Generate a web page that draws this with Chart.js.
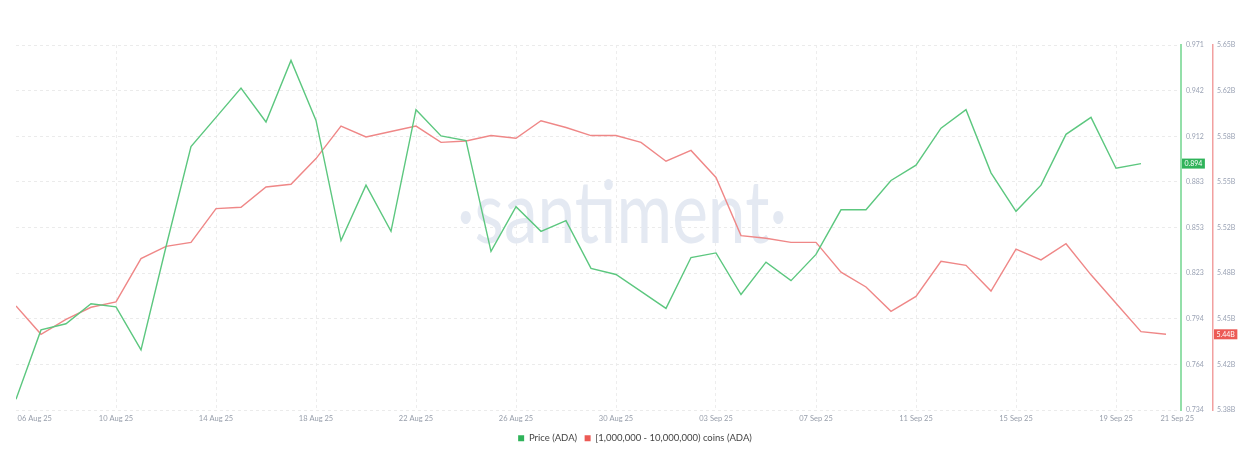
<!DOCTYPE html>
<html>
<head>
<meta charset="utf-8">
<script src="https://cdn.jsdelivr.net/npm/chart.js@4.4.0/dist/chart.umd.min.js"></script>
<style>
  html, body { margin: 0; padding: 0; background: #fff; }
  #wrap { width: 1254px; height: 453px; position: relative; }
</style>
</head>
<body>
<div id="wrap"><canvas id="grafico"></canvas></div>
<script>
// --- DATA ---
const dias = [
  '06 Aug 25', '07 Aug 25', '08 Aug 25', '09 Aug 25', '10 Aug 25', '11 Aug 25', '12 Aug 25', '13 Aug 25',
  '14 Aug 25', '15 Aug 25', '16 Aug 25', '17 Aug 25', '18 Aug 25', '19 Aug 25', '20 Aug 25', '21 Aug 25',
  '22 Aug 25', '23 Aug 25', '24 Aug 25', '25 Aug 25', '26 Aug 25', '27 Aug 25', '28 Aug 25', '29 Aug 25',
  '30 Aug 25', '31 Aug 25', '01 Sep 25', '02 Sep 25', '03 Sep 25', '04 Sep 25', '05 Sep 25', '06 Sep 25',
  '07 Sep 25', '08 Sep 25', '09 Sep 25', '10 Sep 25', '11 Sep 25', '12 Sep 25', '13 Sep 25', '14 Sep 25',
  '15 Sep 25', '16 Sep 25', '17 Sep 25', '18 Sep 25', '19 Sep 25', '20 Sep 25', '21 Sep 25'
];

// Price (ADA), USD
const precoADA = [
  0.741, 0.786, 0.790, 0.803, 0.801, 0.773, 0.840, 0.905, 0.924, 0.943, 0.921, 0.961,
  0.922, 0.844, 0.880, 0.850, 0.929, 0.912, 0.909, 0.837, 0.866, 0.850, 0.857, 0.826,
  0.822, 0.811, 0.800, 0.833, 0.836, 0.809, 0.830, 0.818, 0.835, 0.864, 0.864, 0.883,
  0.893, 0.917, 0.929, 0.888, 0.863, 0.880, 0.913, 0.924, 0.891, 0.894
];

// supply held by [1M - 10M) coin wallets, in billions of ADA
const saldoBaleias = [
  5.457, 5.436, 5.447, 5.456, 5.460, 5.492, 5.501, 5.504, 5.529, 5.530, 5.545, 5.547,
  5.566, 5.590, 5.582, 5.586, 5.590, 5.578, 5.579, 5.583, 5.581, 5.594, 5.589, 5.583,
  5.583, 5.578, 5.564, 5.572, 5.552, 5.509, 5.507, 5.504, 5.504, 5.482, 5.471, 5.453,
  5.464, 5.490, 5.487, 5.468, 5.499, 5.491, 5.503, 5.480, 5.459, 5.438, 5.436
];

const xTickLabels = ['06 Aug 25', '10 Aug 25', '14 Aug 25', '18 Aug 25', '22 Aug 25', '26 Aug 25', '30 Aug 25',
  '03 Sep 25', '07 Sep 25', '11 Sep 25', '15 Sep 25', '19 Sep 25', '21 Sep 25'];
const precoTickLabels = ['0.734', '0.764', '0.794', '0.823', '0.853', '0.883', '0.912', '0.942', '0.971'];
const saldoTickLabels = ['5.38B', '5.42B', '5.45B', '5.48B', '5.52B', '5.55B', '5.58B', '5.62B', '5.65B'];

const PRECO_MIN = 0.734, PRECO_MAX = 0.971;
const SALDO_MIN = 5.38, SALDO_MAX = 5.65;

// --- CORES ---
const VERDE_LINHA = '#5cc77f';
const VERMELHO_LINHA = '#ef8787';
const VERDE_FORTE = '#2fb35a';
const VERMELHO_FORTE = '#ec5a55';

Chart.defaults.font.family = 'Lato, "Open Sans", sans-serif';

// ticks evenly spread between min and max, labels come from the arrays above
function ticksFixos(min, max, n) {
  return Array.from({ length: n }, (_, k) => ({ value: min + k * (max - min) / (n - 1) }));
}

// --- PLUGINS ---
const marcaDagua = {
  id: 'marcaDagua',
  beforeDatasetsDraw(chart) {
    const { ctx, chartArea } = chart;
    const texto = '·santiment·';
    ctx.save();
    ctx.font = '400 88px Lato, sans-serif';
    const largura = ctx.measureText(texto).width;
    const alvo = 330;
    ctx.translate(chart.width / 2 - 5, chartArea.top + 198);
    ctx.scale(alvo / largura, 1);
    ctx.fillStyle = '#e4e9f2';
    ctx.textAlign = 'center';
    ctx.textBaseline = 'alphabetic';
    ctx.fillText(texto, 0, 0);
    ctx.restore();
  }
};

const etiquetasValor = {
  id: 'etiquetasValor',
  afterDraw(chart) {
    const { ctx } = chart;
    const desenha = (scale, valor, texto, cor) => {
      const y = scale.getPixelForValue(valor);
      ctx.save();
      ctx.font = '7px Lato, sans-serif';
      const w = ctx.measureText(texto).width + 5;
      ctx.fillStyle = cor;
      ctx.fillRect(scale.left + 1, y - 5, w, 10);
      ctx.fillStyle = '#fff';
      ctx.textBaseline = 'middle';
      ctx.fillText(texto, scale.left + 3.5, y + 0.5);
      ctx.restore();
    };
    const ultimoPreco = precoADA[precoADA.length - 1];
    const ultimoSaldo = saldoBaleias[saldoBaleias.length - 1];
    desenha(chart.scales.y, ultimoPreco, ultimoPreco.toFixed(3), VERDE_FORTE);
    desenha(chart.scales.y2, ultimoSaldo, ultimoSaldo.toFixed(2) + 'B', VERMELHO_FORTE);
  }
};

// --- GRÁFICO ---
const ctxGrafico = document.getElementById('grafico').getContext('2d');

const grafico = new Chart(ctxGrafico, {
  type: 'line',
  data: {
    datasets: [
      {
        label: 'Price (ADA)',
        data: precoADA.map((v, i) => ({ x: i, y: v })),
        yAxisID: 'y',
        borderColor: VERDE_LINHA,
        backgroundColor: VERDE_FORTE,
        borderWidth: 1.4,
        pointRadius: 0,
        tension: 0
      },
      {
        label: '[1,000,000 - 10,000,000) coins (ADA)',
        data: saldoBaleias.map((v, i) => ({ x: i, y: v })),
        yAxisID: 'y2',
        borderColor: VERMELHO_LINHA,
        backgroundColor: VERMELHO_FORTE,
        borderWidth: 1.4,
        pointRadius: 0,
        tension: 0
      }
    ]
  },
  options: {
    responsive: true,
    maintainAspectRatio: false,
    animation: false,
    layout: { padding: { left: 16, top: 45, right: 0, bottom: 0 } },
    plugins: {
      tooltip: { enabled: false },
      legend: {
        position: 'bottom',
        labels: {
          boxWidth: 6,
          boxHeight: 6,
          padding: 7.5,
          color: '#444',
          font: { size: 9.5 },
          generateLabels(chart) {
            return Chart.defaults.plugins.legend.labels.generateLabels(chart)
              .map(item => ({ ...item, lineWidth: 0 }));
          }
        }
      }
    },
    scales: {
      x: {
        type: 'linear',
        min: 0,
        max: 46.6,
        afterBuildTicks(scale) {
          const ticks = xTickLabels.map(lbl => ({ value: dias.indexOf(lbl) }));
          // edge labels are pushed inside, like the original
          ticks[0].value += 0.75;
          ticks[ticks.length - 1].value += 0.45;
          scale.ticks = ticks;
        },
        afterFit(scale) { scale.height = 16; },
        ticks: {
          autoSkip: false,
          maxRotation: 0,
          padding: 4,
          color: '#979eab',
          font: { size: 7.5 },
          callback: (v, i) => xTickLabels[i]
        },
        grid: {
          drawTicks: false,
          color: c => (c.index === 0 || c.index === xTickLabels.length - 1) ? 'transparent' : '#ededed'
        },
        border: { display: false, dash: [3, 3] }
      },
      y: {
        position: 'right',
        weight: 0,
        min: PRECO_MIN,
        max: PRECO_MAX,
        afterBuildTicks(scale) { scale.ticks = ticksFixos(PRECO_MIN, PRECO_MAX, precoTickLabels.length); },
        afterFit(scale) { scale.width = 32; },
        ticks: {
          padding: 5,
          color: '#9ba3b5',
          font: { size: 7 },
          callback: (v, i) => precoTickLabels[i]
        },
        grid: { drawTicks: false, color: '#ebebeb' },
        border: { display: true, color: '#93dfa9', width: 2, dash: [3, 3] }
      },
      y2: {
        position: 'right',
        weight: 1,
        min: SALDO_MIN,
        max: SALDO_MAX,
        afterBuildTicks(scale) { scale.ticks = ticksFixos(SALDO_MIN, SALDO_MAX, saldoTickLabels.length); },
        afterFit(scale) { scale.width = 41; },
        ticks: {
          padding: 4,
          color: '#9ba3b5',
          font: { size: 7 },
          callback: (v, i) => saldoTickLabels[i]
        },
        grid: { display: false, drawTicks: false },
        border: { display: true, color: '#f2a0a0', width: 1.5 }
      }
    }
  },
  plugins: [marcaDagua, etiquetasValor]
});
</script>
</body>
</html>
